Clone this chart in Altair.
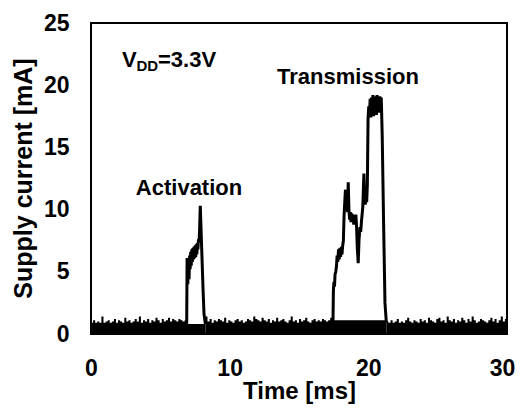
import altair as alt
import pandas as pd

FONT = "Liberation Sans"

# Baseline noise (upper envelope of the black noise band), sampled every 0.15 ms
seg_starts = [0.0, 8.25, 21.3]
seg_step = 0.15
seg1_vals = [0.9,1.1,0.9,1.0,0.9,1.4,0.9,1.0,1.1,0.9,1.0,1.2,0.9,1.1,1.0,0.9,1.3,1.0,1.1,0.9,1.0,1.2,1.0,1.4,
             0.9,1.1,1.0,1.2,0.9,1.1,1.0,1.3,1.1,0.9,1.2,1.0,1.1,1.3,1.0,1.2,1.1,1.0,1.2,1.1,1.0,1.1,0.8]
seg2_vals = [1.4,1.0,1.2,0.9,1.1,1.0,1.2,1.1,1.0,1.3,0.9,1.1,1.0,0.9,1.1,1.2,1.0,1.1,0.9,1.0,1.2,1.1,1.0,1.4,
             1.2,1.1,1.0,1.3,1.1,1.0,1.2,0.9,1.1,1.0,1.3,1.0,1.1,1.2,1.0,0.9,1.1,1.4,1.0,1.1,0.9,1.2,1.0,1.1,
             1.3,1.0,0.9,1.1,1.2,1.0,1.1,1.0,1.2,1.1,1.0,1.1,1.3,1.1]
seg3_vals = [1.0,0.9,1.1,0.9,1.0,1.2,0.9,1.0,0.9,1.1,1.3,1.0,0.9,1.1,1.0,0.9,1.2,1.0,1.1,0.9,1.3,1.1,1.0,0.9,
             1.2,1.3,1.0,1.1,0.9,1.4,1.1,1.0,1.2,0.9,1.1,1.0,1.3,1.1,0.9,1.2,1.0,1.4,1.1,0.9,1.0,1.2,1.1,1.0,
             0.9,1.1,1.3,1.0,1.2,0.9,1.1,1.4,1.0,1.2,1.1]

# Activation pulse
p1_t = [6.90, 6.93, 6.98, 7.03, 7.07, 7.11, 7.15, 7.19, 7.23, 7.27, 7.31, 7.35, 7.39, 7.43, 7.47, 7.51,
        7.55, 7.59, 7.63, 7.67, 7.71, 7.75, 7.79, 7.83, 7.88, 7.92, 7.96, 8.02, 8.08, 8.15, 8.25]
p1_v = [0.6, 6.1, 4.0, 5.6, 4.4, 6.3, 5.2, 6.6, 5.5, 6.8, 5.8, 6.9, 6.0, 7.0, 6.1, 7.1,
        6.2, 7.2, 6.4, 7.3, 6.8, 7.6, 7.4, 8.3, 10.3, 9.0, 7.6, 5.6, 3.6, 1.6, 0.8]

# Transmission pulse
p2_t = [17.45, 17.48, 17.52, 17.56, 17.60, 17.65, 17.70, 17.75, 17.80, 17.85, 17.90, 17.95, 18.00, 18.05,
        18.10, 18.15, 18.20, 18.25, 18.30, 18.35, 18.40, 18.45, 18.50, 18.55, 18.60, 18.65, 18.70, 18.75,
        18.80, 18.85, 18.90, 18.95, 19.00, 19.05, 19.10, 19.15, 19.20, 19.27, 19.33, 19.40, 19.45, 19.50,
        19.55, 19.60, 19.68, 19.73, 19.78, 19.83, 19.88, 19.93, 19.98, 20.03, 20.08, 20.13, 20.18, 20.23,
        20.28, 20.33, 20.38, 20.43, 20.48, 20.53, 20.58, 20.63, 20.68, 20.73, 20.78, 20.83, 20.88, 20.93,
        21.00, 21.10, 21.20, 21.30]
p2_v = [0.9, 3.5, 4.2, 3.8, 4.8, 5.0, 5.4, 6.3, 5.8, 6.8, 6.0, 6.9, 6.2, 7.0,
        6.4, 7.1, 7.5, 9.5, 10.6, 11.6, 10.2, 11.0, 9.8, 12.2, 10.0, 9.2, 9.8, 9.0,
        9.7, 9.2, 9.6, 8.8, 9.5, 9.0, 9.6, 8.7, 7.0, 5.7, 7.6, 8.6, 8.2, 9.0,
        9.6, 10.2, 12.9, 11.0, 10.4, 11.2, 10.6, 12.0, 17.3, 18.3, 17.5, 18.9, 17.4, 19.0,
        17.8, 19.2, 17.5, 18.9, 18.0, 19.1, 17.6, 19.2, 18.0, 19.0, 17.8, 19.1, 18.2, 19.0,
        16.0, 9.0, 2.5, 0.9]

x_ticks = [0, 10, 20, 30]
y_ticks = [0, 5, 10, 15, 20, 25]

rows = []
for k, (start, vals) in enumerate(zip(seg_starts, [seg1_vals, seg2_vals, seg3_vals])):
    for i, v in enumerate(vals):
        rows.append({"t": round(start + i * seg_step, 3), "v": v, "seg": f"s{k}"})
base_df = pd.DataFrame(rows)
pulse_df = pd.concat([
    pd.DataFrame({"t": p1_t, "v": p1_v, "seg": "p1"}),
    pd.DataFrame({"t": p2_t, "v": p2_v, "seg": "p2"}),
])
tick_df = pd.DataFrame({"t": x_ticks, "v0": 0, "v1": 0.55})

xs = alt.Scale(domain=[0, 30], nice=False, zero=False)
ys = alt.Scale(domain=[0, 25], nice=False)

x_axis = alt.Axis(values=x_ticks, grid=False, domain=False, ticks=False, tickSize=0,
                  labelFont=FONT, labelFontSize=23, labelFontWeight="bold", labelColor="black",
                  labelPadding=23, labelFlush=False,
                  labelOffset=alt.condition("datum.value == 30", alt.value(-5), alt.value(0)),
                  title="Time [ms]", titleFont=FONT, titleFontSize=24, titleFontWeight="bold",
                  titleColor="black", titleX=208, titleY=64, titleAlign="center",
                  titleBaseline="alphabetic")
y_axis = alt.Axis(values=y_ticks, grid=False, domain=False, ticks=False, tickSize=0,
                  labelFont=FONT, labelFontSize=23, labelFontWeight="bold", labelColor="black",
                  labelPadding=22, labelFlush=False,
                  title="Supply current [mA]", titleFont=FONT, titleFontSize=25, titleFontWeight="bold",
                  titleColor="black", titleX=-60, titleY=155, titleAlign="center",
                  titleBaseline="alphabetic", titleAngle=-90)

base = alt.Chart(base_df).mark_area(color="black", interpolate="step-after", clip=True).encode(
    x=alt.X("t:Q", scale=xs, axis=x_axis),
    y=alt.Y("v:Q", scale=ys, axis=y_axis),
    detail="seg:N",
)

pulses = alt.Chart(pulse_df).mark_line(color="black", strokeWidth=3, clip=True).encode(
    x=alt.X("t:Q", scale=xs),
    y=alt.Y("v:Q", scale=ys),
    detail="seg:N",
)

ticks = alt.Chart(tick_df).mark_rule(color="black", strokeWidth=2).encode(
    x=alt.X("t:Q", scale=xs),
    y=alt.Y("v0:Q", scale=ys),
    y2="v1:Q",
)

def label(text, x, y, size=22, align="center"):
    return alt.Chart(pd.DataFrame({"a": [0]})).mark_text(
        text=text, font=FONT, fontSize=size, fontWeight="bold", color="black",
        align=align, baseline="alphabetic"
    ).encode(x=alt.value(x), y=alt.value(y))

texts = [
    label("V", 31, 44, align="left"),
    label("DD", 45.5, 48, size=15, align="left"),
    label("=3.3V", 67, 44, align="left"),
    label("Transmission", 257, 61),
    label("Activation", 98, 172),
]

chart = alt.layer(base, pulses, ticks, *texts).properties(
    width=416, height=311,
    autosize=alt.AutoSizeParams(type="none"),
    padding={"left": 83, "top": 15, "right": 9, "bottom": 70},
).configure_view(stroke="black", strokeWidth=2)

chart.save("out.html", embed_options={"renderer": "svg", "actions": False})
